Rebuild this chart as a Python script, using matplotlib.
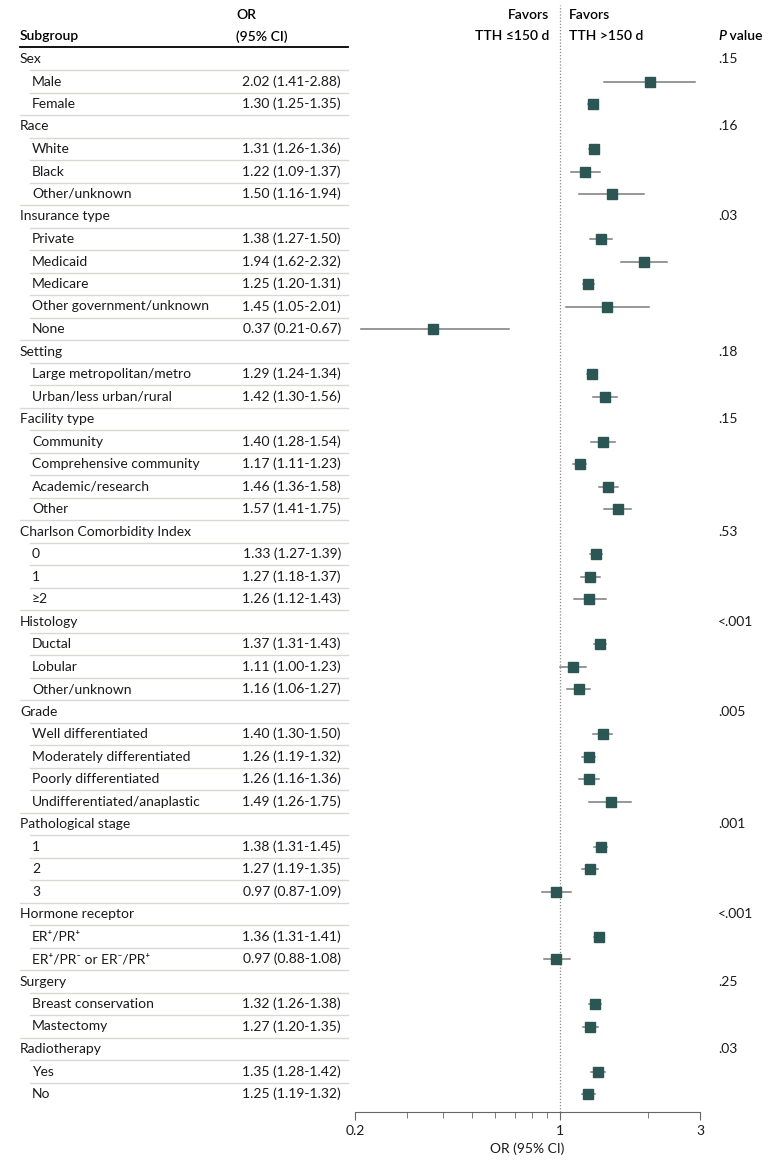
import numpy as np
import matplotlib
matplotlib.use('Agg')
import matplotlib.pyplot as plt
from matplotlib.transforms import blended_transform_factory

plt.rcParams['font.family'] = ['Lato', 'DejaVu Sans']

# ==== data ====
groups = ['Sex', 'Race', 'Insurance type', 'Setting', 'Facility type',
          'Charlson Comorbidity Index', 'Histology', 'Grade',
          'Pathological stage', 'Hormone receptor', 'Surgery', 'Radiotherapy']
p_values = ['.15', '.16', '.03', '.18', '.15', '.53', '<.001', '.005',
            '.001', '<.001', '.25', '.03']
sub_labels = [
    ['Male', 'Female'],
    ['White', 'Black', 'Other/unknown'],
    ['Private', 'Medicaid', 'Medicare', 'Other government/unknown', 'None'],
    ['Large metropolitan/metro', 'Urban/less urban/rural'],
    ['Community', 'Comprehensive community', 'Academic/research', 'Other'],
    ['0', '1', '\u22652'],
    ['Ductal', 'Lobular', 'Other/unknown'],
    ['Well differentiated', 'Moderately differentiated',
     'Poorly differentiated', 'Undifferentiated/anaplastic'],
    ['1', '2', '3'],
    ['ER\u207a/PR\u207a', 'ER\u207a/PR\u207b or ER\u207b/PR\u207a'],
    ['Breast conservation', 'Mastectomy'],
    ['Yes', 'No'],
]
odds = [
    [2.02, 1.30],
    [1.31, 1.22, 1.50],
    [1.38, 1.94, 1.25, 1.45, 0.37],
    [1.29, 1.42],
    [1.40, 1.17, 1.46, 1.57],
    [1.33, 1.27, 1.26],
    [1.37, 1.11, 1.16],
    [1.40, 1.26, 1.26, 1.49],
    [1.38, 1.27, 0.97],
    [1.36, 0.97],
    [1.32, 1.27],
    [1.35, 1.25],
]
ci_low = [
    [1.41, 1.25],
    [1.26, 1.09, 1.16],
    [1.27, 1.62, 1.20, 1.05, 0.21],
    [1.24, 1.30],
    [1.28, 1.11, 1.36, 1.41],
    [1.27, 1.18, 1.12],
    [1.31, 1.00, 1.06],
    [1.30, 1.19, 1.16, 1.26],
    [1.31, 1.19, 0.87],
    [1.31, 0.88],
    [1.26, 1.20],
    [1.28, 1.19],
]
ci_high = [
    [2.88, 1.35],
    [1.36, 1.37, 1.94],
    [1.50, 2.32, 1.31, 2.01, 0.67],
    [1.34, 1.56],
    [1.54, 1.23, 1.58, 1.75],
    [1.39, 1.37, 1.43],
    [1.43, 1.23, 1.27],
    [1.50, 1.32, 1.36, 1.75],
    [1.45, 1.35, 1.09],
    [1.41, 1.08],
    [1.38, 1.35],
    [1.42, 1.32],
]

W, H = 780, 1166
row0, dy = 59, 22.5      # pixel y of first row, row spacing
ax_top, ax_bot = 5, 1112
ax_left, ax_right = 355, 700

fig = plt.figure(figsize=(W / 100, H / 100), dpi=100)
ax = fig.add_axes([ax_left / W, 1 - ax_bot / H,
                   (ax_right - ax_left) / W, (ax_bot - ax_top) / H])
ax.set_xscale('log')
ax.set_xlim(0.2, 3)
ax.set_ylim((ax_bot - row0) / dy, -(row0 - ax_top) / dy)

tr = blended_transform_factory(fig.transFigure, ax.transData)
fx = lambda px: px / W

mark_col = '#2b5654'
ci_col = '#7a7a7a'
sep_col = '#dad9d0'
txt_col = '#1a1a1a'
fs = 10

row = 0
for g, pv, labs, ors, lo, hi in zip(groups, p_values, sub_labels, odds, ci_low, ci_high):
    if row > 0:
        ax.plot([fx(20), fx(348)], [row - 0.5] * 2, transform=tr, color=sep_col,
                lw=1, clip_on=False)
    ax.text(fx(20), row, g, transform=tr, fontsize=fs, va='center', color=txt_col)
    ax.text(fx(718), row, pv, transform=tr, fontsize=fs, va='center', color=txt_col)
    row += 1
    for lab, o, l, h in zip(labs, ors, lo, hi):
        ax.plot([fx(30), fx(348)], [row - 0.5] * 2, transform=tr, color=sep_col,
                lw=1, clip_on=False)
        ax.text(fx(32), row, lab, transform=tr, fontsize=fs, va='center',
                color=txt_col)
        ax.text(fx(341), row, f'{o:.2f} ({l:.2f}-{h:.2f})', transform=tr,
                fontsize=fs, va='center', ha='right', color=txt_col)
        ax.plot([l, h], [row, row], color=ci_col, lw=1.1, zorder=2)
        ax.plot([o], [row], marker='s', ms=7.5, color=mark_col, mec=mark_col,
                zorder=3, ls='none')
        row += 1

# header
hw = 'semibold'
ax.plot([fx(20), fx(348)], [-0.53] * 2, transform=tr, color='black', lw=1.3,
        clip_on=False)
ax.text(fx(20), -1, 'Subgroup', transform=tr, fontsize=fs, va='center',
        fontweight=hw)
ax.text(fx(236), -1.95, 'OR', transform=tr, fontsize=fs, va='center',
        fontweight=hw)
ax.text(fx(236), -1, '(95% CI)', transform=tr, fontsize=fs, va='center',
        fontweight=hw)
ax.text(fx(549), -1.95, 'Favors', transform=tr, fontsize=fs, va='center',
        ha='right', fontweight=hw)
ax.text(fx(549), -1, 'TTH \u2264150 d', transform=tr, fontsize=fs, va='center',
        ha='right', fontweight=hw)
ax.text(fx(569), -1.95, 'Favors', transform=tr, fontsize=fs, va='center',
        fontweight=hw)
ax.text(fx(569), -1, 'TTH >150 d', transform=tr, fontsize=fs, va='center',
        fontweight=hw)
p_txt = ax.text(fx(718), -1, 'P', transform=tr, fontsize=fs, va='center',
                fontweight=hw, fontstyle='italic')
ax.annotate(' value', xy=(1, 0), xycoords=p_txt, va='bottom', ha='left',
            fontsize=fs, fontweight=hw)

ax.axvline(1, color='#888888', lw=0.9, ls=(0, (1, 1.5)), zorder=1)

for s in ['top', 'right', 'left']:
    ax.spines[s].set_visible(False)
ax.spines['bottom'].set_color('#666666')
ax.set_yticks([])
ax.set_xticks([0.2, 1, 3])
ax.set_xticklabels(['0.2', '1', '3'])
ax.set_xticks([0.3, 0.4, 0.5, 0.6, 0.7, 0.8, 0.9, 2], minor=True)
ax.xaxis.set_minor_formatter(plt.NullFormatter())
ax.tick_params(axis='x', which='major', length=6, color='#666666',
               labelsize=fs, labelcolor=txt_col)
ax.tick_params(axis='x', which='minor', length=4, color='#666666')
ax.set_xlabel('OR (95% CI)', fontsize=fs, labelpad=4, color=txt_col)

fig.savefig('out.png', dpi=100)
